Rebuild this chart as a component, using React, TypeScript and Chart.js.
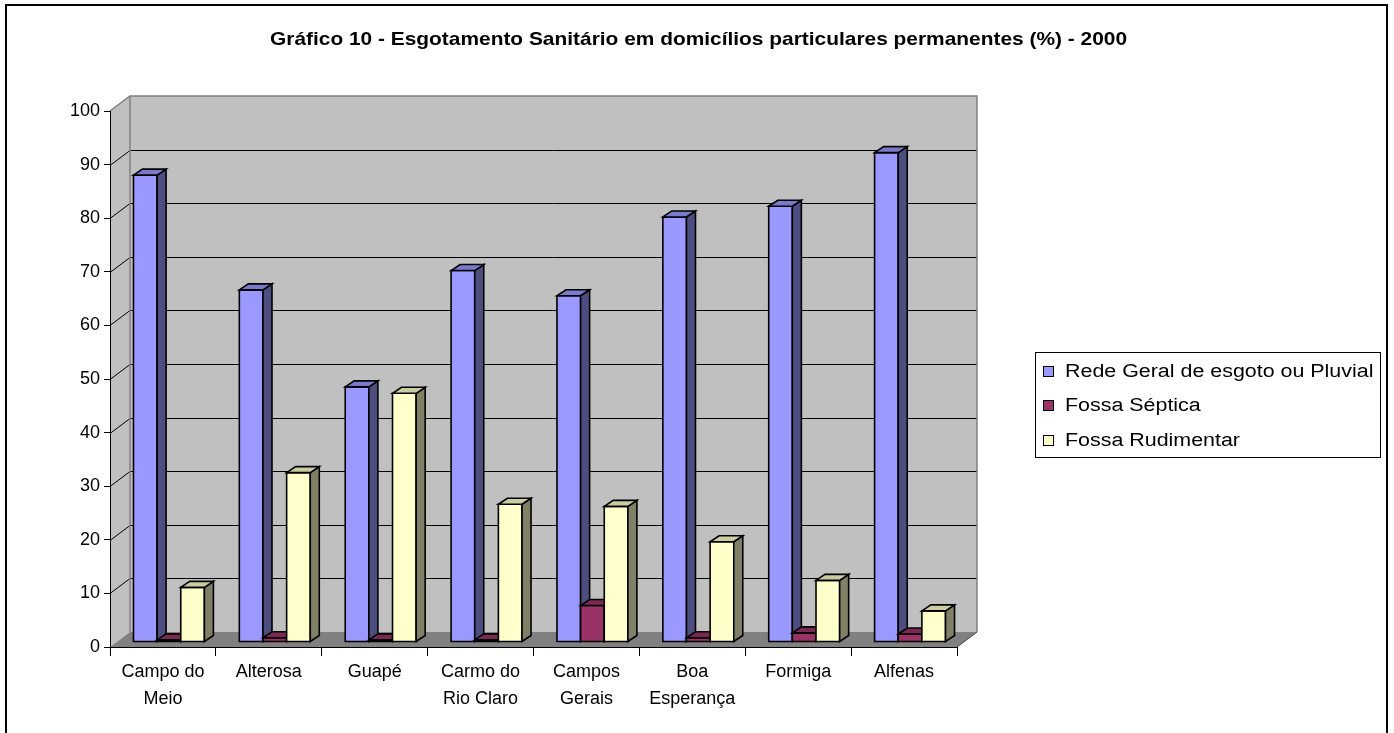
import React, { useEffect, useRef } from "react";
import { Chart, registerables } from "chart.js";

Chart.register(...registerables);

const TITLE = "Gráfico 10 - Esgotamento Sanitário em domicílios particulares permanentes (%) - 2000";
const categories: string[][] = [
  ["Campo do", "Meio"],
  ["Alterosa"],
  ["Guapé"],
  ["Carmo do", "Rio Claro"],
  ["Campos", "Gerais"],
  ["Boa", "Esperança"],
  ["Formiga"],
  ["Alfenas"],
];
const seriesNames = ["Rede Geral de esgoto ou Pluvial", "Fossa Séptica", "Fossa Rudimentar"];
const redeGeral = [87.1, 65.7, 47.6, 69.3, 64.6, 79.3, 81.3, 91.3];
const fossaSeptica = [0.4, 0.8, 0.4, 0.4, 6.8, 0.8, 1.7, 1.5];
const fossaRudimentar = [10.2, 31.6, 46.4, 25.7, 25.3, 18.7, 11.5, 5.8];
const yMin = 0;
const yMax = 100;
const yStep = 10;

const frontColors = ["#9999FF", "#993366", "#FFFFCC"];
const sideColors = ["#4D4D80", "#4D1A33", "#808066"];
const topColors = ["#7A7ACC", "#7A2952", "#CCCCA3"];

const FONT = "'Liberation Sans', Arial, Helvetica, sans-serif";

// 3D geometry
const WALL_DX = 20;
const WALL_DY = -15;
const BAR_DX = 6;
const BAR_DY = -5;
const DEPTH_DX = 9;
const DEPTH_DY = -6;

const threeD = {
  id: "threeD",
  beforeDraw(chart: any) {
    const { ctx, chartArea } = chart;
    const { left, right, top, bottom } = chartArea;
    const ys = chart.scales.y;
    ctx.save();
    ctx.fillStyle = "#FFFFFF";
    ctx.fillRect(0, 0, chart.width, chart.height);
    // outer frame
    ctx.strokeStyle = "#000000";
    ctx.lineWidth = 2;
    ctx.strokeRect(6, 5, 1381, 740);

    // left side wall
    ctx.fillStyle = "#C0C0C0";
    ctx.beginPath();
    ctx.moveTo(left, top);
    ctx.lineTo(left + WALL_DX, top + WALL_DY);
    ctx.lineTo(left + WALL_DX, bottom + WALL_DY);
    ctx.lineTo(left, bottom);
    ctx.closePath();
    ctx.fill();
    // back wall
    ctx.fillRect(left + WALL_DX, top + WALL_DY, right - left, bottom - top);
    // floor
    ctx.fillStyle = "#808080";
    ctx.beginPath();
    ctx.moveTo(left, bottom);
    ctx.lineTo(right, bottom);
    ctx.lineTo(right + WALL_DX, bottom + WALL_DY);
    ctx.lineTo(left + WALL_DX, bottom + WALL_DY);
    ctx.closePath();
    ctx.fill();

    // gridlines
    ctx.lineWidth = 1;
    for (let v = yMin + yStep; v < yMax; v += yStep) {
      const y = Math.round(ys.getPixelForValue(v)) + 0.5;
      ctx.strokeStyle = "#000000";
      ctx.beginPath();
      ctx.moveTo(left, y);
      ctx.lineTo(left + WALL_DX, y + WALL_DY);
      ctx.lineTo(right + WALL_DX, y + WALL_DY);
      ctx.stroke();
    }
    // wall edges
    ctx.strokeStyle = "#808080";
    ctx.lineWidth = 1.5;
    ctx.beginPath();
    ctx.moveTo(left, top);
    ctx.lineTo(left + WALL_DX, top + WALL_DY);
    ctx.lineTo(right + WALL_DX, top + WALL_DY);
    ctx.lineTo(right + WALL_DX, bottom + WALL_DY);
    ctx.moveTo(left + WALL_DX, top + WALL_DY);
    ctx.lineTo(left + WALL_DX, bottom + WALL_DY);
    ctx.stroke();
    ctx.strokeStyle = "#404040";
    ctx.lineWidth = 1;
    ctx.beginPath();
    ctx.moveTo(right, bottom);
    ctx.lineTo(right + WALL_DX, bottom + WALL_DY);
    ctx.stroke();
    ctx.restore();
  },
  afterDatasetsDraw(chart: any) {
    const { ctx } = chart;
    const n = chart.data.labels.length;
    ctx.save();
    ctx.lineWidth = 1.6;
    ctx.strokeStyle = "#000000";
    ctx.lineJoin = "miter";
    for (let i = 0; i < n; i++) {
      chart.data.datasets.forEach((ds: any, d: number) => {
        const el = chart.getDatasetMeta(d).data[i];
        if (!el) return;
        const p = el.getProps(["x", "y", "base", "width"], true);
        const x0 = p.x - p.width / 2 + BAR_DX;
        const x1 = p.x + p.width / 2 + BAR_DX;
        const yt = p.y + BAR_DY;
        const yb = p.base + BAR_DY;
        // front
        ctx.fillStyle = frontColors[d];
        ctx.beginPath();
        ctx.rect(x0, yt, x1 - x0, yb - yt);
        ctx.fill();
        ctx.stroke();
        // side
        ctx.fillStyle = sideColors[d];
        ctx.beginPath();
        ctx.moveTo(x1, yt);
        ctx.lineTo(x1 + DEPTH_DX, yt + DEPTH_DY);
        ctx.lineTo(x1 + DEPTH_DX, yb + DEPTH_DY);
        ctx.lineTo(x1, yb);
        ctx.closePath();
        ctx.fill();
        ctx.stroke();
        // top
        ctx.fillStyle = topColors[d];
        ctx.beginPath();
        ctx.moveTo(x0, yt);
        ctx.lineTo(x0 + DEPTH_DX, yt + DEPTH_DY);
        ctx.lineTo(x1 + DEPTH_DX, yt + DEPTH_DY);
        ctx.lineTo(x1, yt);
        ctx.closePath();
        ctx.fill();
        ctx.stroke();
      });
    }
    ctx.restore();
  },
  afterDraw(chart: any) {
    const { ctx } = chart;
    ctx.save();
    // title
    ctx.fillStyle = "#000000";
    ctx.font = `bold 19px ${FONT}`;
    ctx.textBaseline = "middle";
    ctx.textAlign = "left";
    const targetW = 857;
    const w = ctx.measureText(TITLE).width;
    const sx = targetW / w;
    ctx.translate(698.5 - targetW / 2, 40);
    ctx.scale(sx, 1);
    ctx.fillText(TITLE, 0, 0);
    ctx.restore();

    // legend
    ctx.save();
    ctx.strokeStyle = "#000000";
    ctx.lineWidth = 1;
    ctx.strokeRect(1035.5, 352.5, 345, 105);
    ctx.font = `18px ${FONT}`;
    ctx.textBaseline = "middle";
    ctx.textAlign = "left";
    const rows = [371, 405, 440];
    chart.data.datasets.forEach((ds: any, d: number) => {
      const cy = rows[d];
      ctx.fillStyle = frontColors[d];
      ctx.fillRect(1043, cy - 5, 10, 10);
      ctx.strokeRect(1043.5, cy - 4.5, 10, 10);
      ctx.fillStyle = "#000000";
      ctx.save();
      ctx.translate(1065, cy + 1);
      ctx.scale(1.19, 1);
      ctx.fillText(ds.label, 0, 0);
      ctx.restore();
    });
    ctx.restore();
  },
};

export default function App() {
  const ref = useRef<HTMLCanvasElement | null>(null);
  useEffect(() => {
    if (!ref.current) return;
    Chart.defaults.font.family = FONT;
    const seriesData = [redeGeral, fossaSeptica, fossaRudimentar];
    const chart = new Chart(ref.current, {
      type: "bar",
      data: {
        labels: categories,
        datasets: seriesNames.map((name, d) => ({
          label: name,
          data: seriesData[d],
          backgroundColor: "rgba(0,0,0,0)",
          borderWidth: 0,
          categoryPercentage: 0.67,
          barPercentage: 1,
        })),
      },
      options: {
        responsive: false,
        animation: false,
        events: [],
        layout: { padding: { top: 111, left: 0, right: 437, bottom: 0 } },
        plugins: {
          legend: { display: false },
          title: { display: false },
          tooltip: { enabled: false },
        },
        scales: {
          x: {
            type: "category",
            offset: true,
            grid: {
              offset: true,
              drawOnChartArea: false,
              drawTicks: true,
              tickLength: 9,
              color: "#000000",
              lineWidth: 1,
            },
            border: { display: true, color: "#000000", width: 1 },
            ticks: {
              color: "#000000",
              font: { size: 18, lineHeight: 1.5 },
              padding: 3,
              maxRotation: 0,
              autoSkip: false,
            },
            afterFit: (s: any) => {
              s.height = 86;
            },
          },
          y: {
            type: "linear",
            min: yMin,
            max: yMax,
            grid: {
              drawOnChartArea: false,
              drawTicks: true,
              tickLength: 6,
              color: "#000000",
              lineWidth: 1,
            },
            border: { display: true, color: "#000000", width: 1 },
            ticks: {
              stepSize: yStep,
              color: "#000000",
              font: { size: 18 },
              padding: 4,
            },
            afterFit: (s: any) => {
              s.width = 110;
            },
          },
        },
      },
      plugins: [threeD],
    });
    return () => chart.destroy();
  }, []);
  return (
    <div style={{ position: "fixed", left: 0, top: 0, width: 1394, height: 733, background: "#fff" }}>
      <canvas ref={ref} width={1394} height={733} style={{ width: 1394, height: 733, display: "block" }} />
    </div>
  );
}
